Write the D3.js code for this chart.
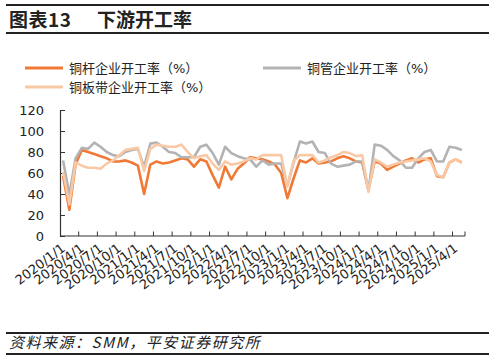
<!DOCTYPE html>
<html>
<head>
<meta charset="utf-8">
<script src="https://cdn.jsdelivr.net/npm/d3@7"></script>
<style>
  body { margin: 0; background: #fff; }
  svg { display: block; }
  text { font-family: "DejaVu Sans", "Noto Sans CJK SC", sans-serif; fill: #222; }
</style>
</head>
<body>
<div id="chart"></div>
<script>
// monthly categories, 2020/1 .. 2025/5
const months = [
  "2020/1/1","2020/2/1","2020/3/1","2020/4/1","2020/5/1","2020/6/1","2020/7/1","2020/8/1","2020/9/1","2020/10/1","2020/11/1","2020/12/1",
  "2021/1/1","2021/2/1","2021/3/1","2021/4/1","2021/5/1","2021/6/1","2021/7/1","2021/8/1","2021/9/1","2021/10/1","2021/11/1","2021/12/1",
  "2022/1/1","2022/2/1","2022/3/1","2022/4/1","2022/5/1","2022/6/1","2022/7/1","2022/8/1","2022/9/1","2022/10/1","2022/11/1","2022/12/1",
  "2023/1/1","2023/2/1","2023/3/1","2023/4/1","2023/5/1","2023/6/1","2023/7/1","2023/8/1","2023/9/1","2023/10/1","2023/11/1","2023/12/1",
  "2024/1/1","2024/2/1","2024/3/1","2024/4/1","2024/5/1","2024/6/1","2024/7/1","2024/8/1","2024/9/1","2024/10/1","2024/11/1","2024/12/1",
  "2025/1/1","2025/2/1","2025/3/1","2025/4/1","2025/5/1"
];

// 铜杆企业开工率（%）
const rodRate = [
  57, 25, 68, 82, 80, 78, 76, 74, 71, 71, 72, 70,
  67, 40, 68, 71, 69, 70, 72, 74, 73, 66, 73, 71,
  58, 46, 66, 54, 64, 69, 75, 74, 73, 71, 68, 60,
  36, 55, 72, 70, 74, 69, 70, 71, 74, 76, 74, 71,
  70, 44, 71, 69, 63, 66, 69, 72, 74, 70, 73, 74,
  57, 56, 70, 73, 70
];

// 铜管企业开工率（%）
const tubeRate = [
  72, 39, 74, 84, 83, 89, 85, 80, 77, 76, 80, 82,
  83, 66, 88, 89, 85, 80, 79, 75, 75, 75, 85, 87,
  79, 68, 85, 79, 76, 74, 73, 66, 72, 68, 69, 69,
  48, 70, 90, 88, 90, 80, 79, 69, 66, 67, 68, 71,
  71, 43, 87, 86, 82, 76, 72, 65, 65, 74, 80, 82,
  71, 71, 85, 84, 82
];

// 铜板带企业开工率（%）
const stripRate = [
  61, 30, 70, 67, 65, 65, 64, 69, 72, 77, 82, 83,
  84, 62, 83, 87, 86, 85, 85, 87, 80, 74, 76, 77,
  69, 63, 71, 68, 69, 71, 74, 73, 77, 77, 77, 77,
  47, 72, 77, 77, 77, 70, 72, 75, 77, 80, 79, 76,
  77, 42, 73, 70, 66, 68, 70, 71, 72, 73, 74, 71,
  58, 56, 70, 73, 70
];

const yTicks = [0, 20, 40, 60, 80, 100, 120];
const labelEvery = 3;

const seriesNames = ["铜杆企业开工率（%）", "铜管企业开工率（%）", "铜板带企业开工率（%）"];
const seriesColors = ["#F07A35", "#B3B3B3", "#F9C9A6"];

const W = 495, H = 362;
const plot = {left: 60, right: 465, top: 110, bottom: 236};

const svg = d3.select("#chart").append("svg")
    .attr("width", W)
    .attr("height", H);

// header / footer rules
svg.append("line").attr("x1", 6).attr("x2", 489).attr("y1", 5).attr("y2", 5)
    .attr("stroke", "#222").attr("stroke-width", 2);
svg.append("line").attr("x1", 6).attr("x2", 489).attr("y1", 33).attr("y2", 33)
    .attr("stroke", "#222").attr("stroke-width", 2);
svg.append("line").attr("x1", 6).attr("x2", 489).attr("y1", 333).attr("y2", 333)
    .attr("stroke", "#222").attr("stroke-width", 1.8);
svg.append("line").attr("x1", 6).attr("x2", 489).attr("y1", 354).attr("y2", 354)
    .attr("stroke", "#222").attr("stroke-width", 1.8);

// title
svg.append("text").attr("x", 9).attr("y", 27)
    .style("font-family", "'Noto Sans CJK SC', sans-serif")
    .style("font-size", "19px").style("font-weight", "bold")
    .style("letter-spacing", "0.5px")
    .text("图表13");
svg.append("text").attr("x", 97).attr("y", 27)
    .style("font-family", "'Noto Sans CJK SC', sans-serif")
    .style("font-size", "19px").style("font-weight", "bold")
    .text("下游开工率");

// source
svg.append("text").attr("x", 9).attr("y", 348)
    .style("font-family", "'Noto Sans CJK SC', sans-serif")
    .style("font-size", "15px").style("font-style", "italic")
    .style("letter-spacing", "1.5px")
    .text("资料来源：SMM，平安证券研究所");

// legend
const legendPos = [
    {x: 25, y: 68}, {x: 263, y: 68}, {x: 25, y: 87}
];
const legend = svg.append("g");
seriesNames.forEach((name, i) => {
    const p = legendPos[i];
    legend.append("line")
        .attr("x1", p.x).attr("x2", p.x + 38)
        .attr("y1", p.y).attr("y2", p.y)
        .attr("stroke", seriesColors[i]).attr("stroke-width", 3);
    legend.append("text")
        .attr("x", p.x + 44).attr("y", p.y + 4.5)
        .style("font-size", "13px")
        .text(name);
});

// scales
const x = d3.scaleBand()
    .domain(months)
    .range([plot.left, plot.right])
    .padding(0);

const y = d3.scaleLinear()
    .domain([0, 120])
    .range([plot.bottom, plot.top]);

// y axis (ticks inside)
svg.append("g")
    .attr("transform", `translate(${plot.left},0)`)
    .call(d3.axisLeft(y)
        .tickValues(yTicks)
        .tickSizeInner(-5)
        .tickSizeOuter(0)
        .tickPadding(16))
    .call(g => g.select(".domain").attr("stroke", "#333").attr("stroke-width", 1.2))
    .call(g => g.selectAll(".tick line").attr("stroke", "#333"))
    .call(g => g.selectAll(".tick text")
        .style("font-size", "13px")
        .style("font-family", "'DejaVu Sans', sans-serif")
        .attr("fill", "#222"));

// x axis
const xAxis = svg.append("g");
xAxis.append("line")
    .attr("x1", plot.left).attr("x2", plot.right)
    .attr("y1", plot.bottom).attr("y2", plot.bottom)
    .attr("stroke", "#333").attr("stroke-width", 1.2);

const labelMonths = months.filter((d, i) => i % labelEvery === 0);

xAxis.selectAll(".xtick")
    .data(labelMonths.slice(1).concat([null]))
    .join("line")
    .attr("class", "xtick")
    .attr("x1", d => d === null ? plot.right : x(d))
    .attr("x2", d => d === null ? plot.right : x(d))
    .attr("y1", plot.bottom)
    .attr("y2", plot.bottom - 4.5)
    .attr("stroke", "#333");

xAxis.selectAll(".xlabel")
    .data(labelMonths)
    .join("text")
    .attr("class", "xlabel")
    .attr("text-anchor", "end")
    .style("font-size", "13px")
    .style("font-family", "'DejaVu Sans', sans-serif")
    .attr("transform", d => `translate(${x(d) + x.bandwidth() / 2 + 3},${plot.bottom + 14}) rotate(-37)`)
    .text(d => d);

// lines
const allSeries = [rodRate, tubeRate, stripRate];
const line = d3.line()
    .x((d, i) => x(months[i]) + x.bandwidth() / 2)
    .y(d => y(d));

svg.append("g")
    .selectAll("path")
    .data(allSeries)
    .join("path")
    .attr("fill", "none")
    .attr("stroke", (d, i) => seriesColors[i])
    .attr("stroke-width", 2.6)
    .attr("stroke-linejoin", "round")
    .attr("d", d => line(d));
</script>
</body>
</html>
